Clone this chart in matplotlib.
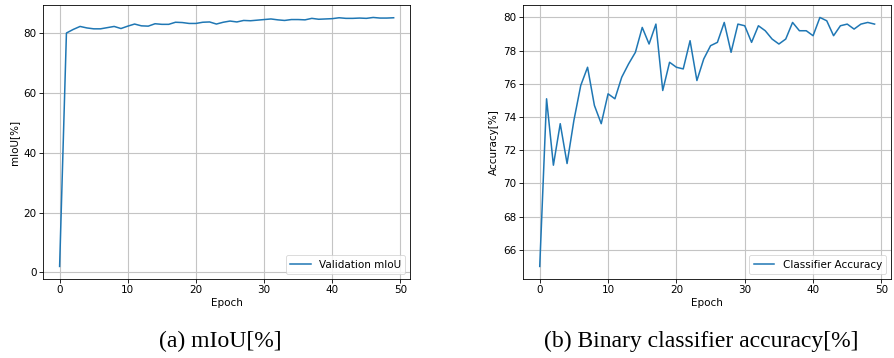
import numpy as np
import matplotlib
matplotlib.use('Agg')
import matplotlib.pyplot as plt

# %% Data
epochs = np.arange(50)

miou = [2.0, 80.0, 81.2, 82.2, 81.7, 81.4, 81.4, 81.8, 82.2, 81.5,
        82.3, 83.0, 82.4, 82.3, 83.1, 82.9, 82.9, 83.6, 83.5, 83.2,
        83.2, 83.6, 83.7, 83.0, 83.6, 84.0, 83.7, 84.2, 84.1, 84.3,
        84.5, 84.7, 84.4, 84.2, 84.5, 84.5, 84.4, 84.9, 84.6, 84.7,
        84.8, 85.1, 84.9, 84.9, 85.0, 84.9, 85.2, 85.0, 85.0, 85.1]

accuracy = [65.0, 75.1, 71.1, 73.6, 71.2, 73.8, 75.9, 77.0, 74.7, 73.6,
            75.4, 75.1, 76.4, 77.2, 77.9, 79.4, 78.4, 79.6, 75.6, 77.3,
            77.0, 76.9, 78.6, 76.2, 77.5, 78.3, 78.5, 79.7, 77.9, 79.6,
            79.5, 78.5, 79.5, 79.2, 78.7, 78.4, 78.7, 79.7, 79.2, 79.2,
            78.9, 80.0, 79.8, 78.9, 79.5, 79.6, 79.3, 79.6, 79.7, 79.6]

captions = ['(a) mIoU[%]', '(b) Binary classifier accuracy[%]']
ylabels = ['mIoU[%]', 'Accuracy[%]']
labels = ['Validation mIoU', 'Classifier Accuracy']
series = [miou, accuracy]

# %% Plot
fs = 7.5
fig = plt.figure(figsize=(8.94, 3.58), dpi=100)
axes = [fig.add_axes([0.048, 0.221, 0.411, 0.765]),
        fig.add_axes([0.585, 0.221, 0.412, 0.765])]

for ax, y, lab, ylab in zip(axes, series, labels, ylabels):
    ax.plot(epochs, y, color='#1f77b4', lw=1.1, label=lab)
    ax.grid(True, color='#c4c4c4', lw=0.8)
    ax.set_xlabel('Epoch', fontsize=fs, labelpad=2)
    ax.set_ylabel(ylab, fontsize=fs, labelpad=3)
    ax.tick_params(labelsize=fs, length=2.6, width=0.6, pad=2)
    ax.set_xticks([0, 10, 20, 30, 40, 50])
    for s in ax.spines.values():
        s.set_linewidth(0.6)
    ax.legend(loc='lower right', fontsize=fs, handlelength=2.0,
              borderpad=0.4, framealpha=0.8, fancybox=True).get_frame().set_linewidth(0.6)

axes[1].set_yticks([66, 68, 70, 72, 74, 76, 78, 80])

fig.text(0.246, 0.047, captions[0], ha='center', va='center',
         family='Liberation Serif', fontsize=17)
fig.text(0.784, 0.047, captions[1], ha='center', va='center',
         family='Liberation Serif', fontsize=17)

fig.savefig('out.png', dpi=100)
